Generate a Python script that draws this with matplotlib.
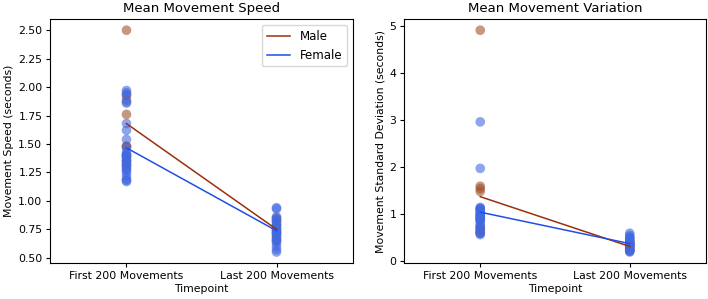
import numpy as np
import matplotlib
matplotlib.use('Agg')
import matplotlib.pyplot as plt

# Timepoints
timepoints = ["First 200 Movements", "Last 200 Movements"]

# Mean movement speed (seconds)
speed_male_first = [2.50, 1.93, 1.89, 1.76, 1.48, 1.48, 1.40, 1.35, 1.32]
speed_male_last = [0.85, 0.82, 0.78, 0.75, 0.72, 0.68, 0.65]
speed_female_first = [1.97, 1.95, 1.93, 1.87, 1.86, 1.68, 1.62, 1.54, 1.47, 1.43,
                      1.41, 1.40, 1.39, 1.38, 1.36, 1.35, 1.33, 1.31, 1.30, 1.28,
                      1.27, 1.25, 1.22, 1.19, 1.18, 1.17]
speed_female_last = [0.94, 0.93, 0.86, 0.84, 0.83, 0.81, 0.79, 0.78, 0.76, 0.74,
                     0.73, 0.72, 0.71, 0.70, 0.68, 0.66, 0.65, 0.63, 0.60, 0.57, 0.55]

# Movement standard deviation (seconds)
var_male_first = [4.92, 1.60, 1.55, 1.49, 0.90, 0.74, 0.70, 0.66, 0.62, 0.60]
var_male_last = [0.42, 0.38, 0.34, 0.30, 0.25, 0.22]
var_female_first = [2.97, 1.98, 1.15, 1.13, 1.12, 1.10, 1.08, 1.05, 1.02, 1.00,
                    0.98, 0.96, 0.95, 0.92, 0.90, 0.88, 0.85, 0.80, 0.75, 0.70,
                    0.65, 0.60, 0.57]
var_female_last = [0.60, 0.55, 0.52, 0.50, 0.48, 0.45, 0.42, 0.40, 0.38, 0.36,
                   0.34, 0.32, 0.30, 0.28, 0.26, 0.24, 0.22, 0.20]

male_pt = 'sienna'
female_pt = 'royalblue'
male_line = '#9c2f0b'
female_line = '#1f4fe6'

plt.rcParams['font.size'] = 7.8

fig = plt.figure(figsize=(7.08, 2.99), dpi=100)
ax1 = fig.add_axes([0.0706, 0.120, 0.428, 0.816])
ax2 = fig.add_axes([0.5706, 0.120, 0.4266, 0.816])


def panel(ax, mf, ml, ff, fl, title, ylabel):
    x = np.arange(len(timepoints))
    for i, vals in enumerate([mf, ml]):
        ax.scatter(np.full(len(vals), x[i]), vals, s=48, color=male_pt, alpha=0.6, edgecolors='none')
    for i, vals in enumerate([ff, fl]):
        ax.scatter(np.full(len(vals), x[i]), vals, s=48, color=female_pt, alpha=0.6, edgecolors='none')
    ax.plot(x, [np.mean(mf), np.mean(ml)], color=male_line, lw=1.1, label='Male')
    ax.plot(x, [np.mean(ff), np.mean(fl)], color=female_line, lw=1.1, label='Female')
    ax.set_xticks(x)
    ax.set_xticklabels(timepoints)
    ax.set_xlim(-0.51, 1.51)
    ax.set_xlabel("Timepoint", labelpad=2)
    ax.set_ylabel(ylabel, labelpad=3)
    ax.set_title(title, fontsize=9.5, pad=5)
    ax.tick_params(length=3, pad=2.5)


panel(ax1, speed_male_first, speed_male_last, speed_female_first, speed_female_last,
      "Mean Movement Speed", "Movement Speed (seconds)")
panel(ax2, var_male_first, var_male_last, var_female_first, var_female_last,
      "Mean Movement Variation", "Movement Standard Deviation (seconds)")
ax1.set_yticks([0.5, 0.75, 1.0, 1.25, 1.5, 1.75, 2.0, 2.25, 2.5])
ax1.set_yticklabels(["%.2f" % v for v in ax1.get_yticks()])
ax1.legend(loc='upper right', fontsize=8.5)

fig.savefig("out.png", dpi=100)
